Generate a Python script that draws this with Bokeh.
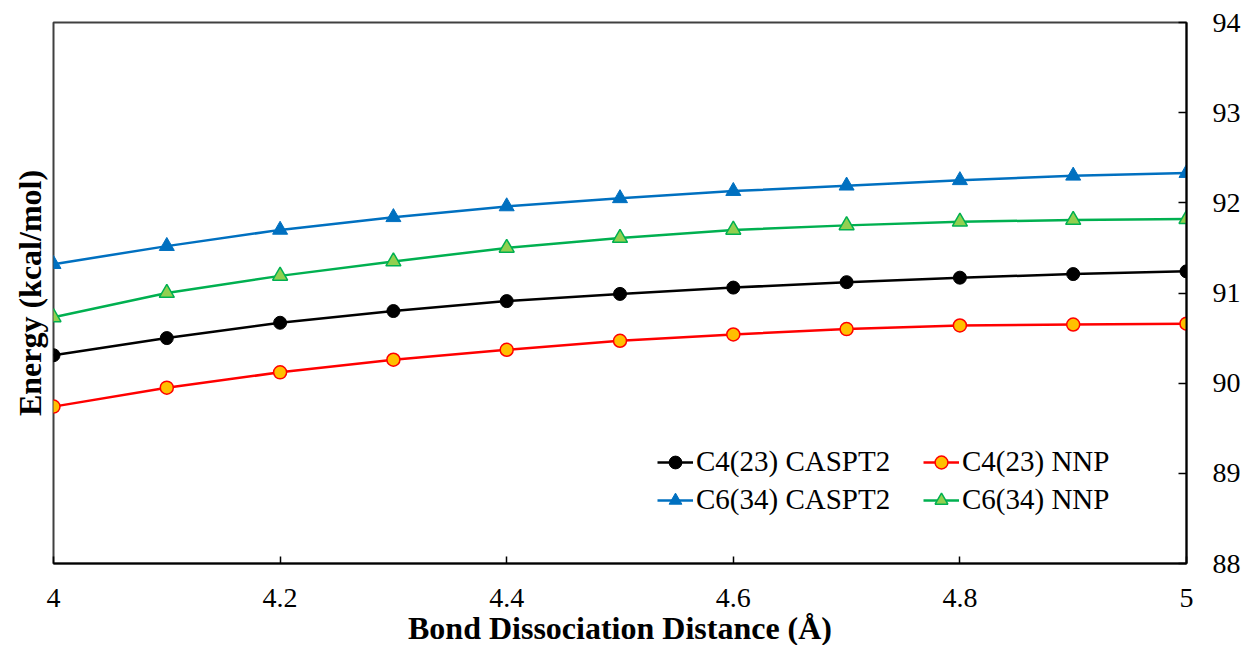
from bokeh.plotting import figure
from bokeh.models import (LinearAxis, FixedTicker, CustomJSTickFormatter, Legend,
                          LegendItem, Range1d, ColumnDataSource)
from bokeh.embed import file_html
from bokeh.resources import INLINE

# ---- data ----
distance = [4.0, 4.1, 4.2, 4.3, 4.4, 4.5, 4.6, 4.7, 4.8, 4.9, 5.0]
c4_caspt2 = [90.31, 90.50, 90.67, 90.80, 90.91, 90.99, 91.06, 91.12, 91.17, 91.21, 91.24]
c4_nnp = [89.74, 89.95, 90.12, 90.26, 90.37, 90.47, 90.54, 90.60, 90.64, 90.65, 90.66]
c6_caspt2 = [91.32, 91.52, 91.70, 91.84, 91.96, 92.05, 92.13, 92.19, 92.25, 92.30, 92.33]
c6_nnp = [90.73, 91.00, 91.19, 91.35, 91.50, 91.61, 91.70, 91.75, 91.79, 91.81, 91.82]
x_ticks = [4.0, 4.2, 4.4, 4.6, 4.8, 5.0]
y_ticks = [88, 89, 90, 91, 92, 93, 94]

FONT = "Liberation Serif"

p = figure(frame_width=1133, frame_height=541, output_backend="svg",
           toolbar_location=None, y_axis_location="right",
           x_range=Range1d(4, 5), y_range=Range1d(88, 94),
           min_border_left=53, min_border_top=22, min_border_right=10,
           min_border_bottom=10)
p.background_fill_color = "white"
p.border_fill_color = "white"
p.grid.visible = False
p.outline_line_color = "#404040"
p.outline_line_width = 2

# x axis
xa = p.xaxis[0]
xa.ticker = FixedTicker(ticks=x_ticks)
xa.formatter = CustomJSTickFormatter(code="return String(Math.round(tick*10)/10);")
xa.major_tick_in = 7
xa.major_tick_out = 0
xa.minor_tick_line_color = None
xa.axis_line_width = 2
xa.axis_line_color = "black"
xa.major_tick_line_width = 1.5
xa.major_label_text_font = FONT
xa.major_label_text_font_size = "28px"
xa.major_label_text_color = "black"
xa.major_label_standoff = 25
xa.axis_label = "Bond Dissociation Distance (Å)"
xa.axis_label_text_font = FONT
xa.axis_label_text_font_style = "bold"
xa.axis_label_text_font_size = "32px"
xa.axis_label_text_color = "black"
xa.axis_label_standoff = 0

# right y axis
ya = p.yaxis[0]
ya.ticker = FixedTicker(ticks=y_ticks)
ya.major_tick_in = 8
ya.major_tick_out = 0
ya.minor_tick_line_color = None
ya.axis_line_width = 2
ya.axis_line_color = "black"
ya.major_tick_line_width = 1.5
ya.major_label_text_font = FONT
ya.major_label_text_font_size = "28px"
ya.major_label_text_color = "black"
ya.major_label_standoff = 26

# left axis: label only
la = LinearAxis(ticker=FixedTicker(ticks=[]), axis_line_color=None,
                major_tick_line_color=None, minor_tick_line_color=None,
                major_label_text_font_size="0px", major_label_standoff=0,
                axis_label="Energy (kcal/mol)", axis_label_text_font=FONT,
                axis_label_text_font_style="bold", axis_label_text_font_size="32px",
                axis_label_text_color="black", axis_label_standoff=6)
p.add_layout(la, "left")

src = ColumnDataSource(dict(x=distance, a=c4_caspt2, b=c4_nnp, c=c6_caspt2, d=c6_nnp))

LW = 2.5
r_a_l = p.line("x", "a", source=src, line_color="black", line_width=LW)
r_a_m = p.scatter("x", "a", source=src, marker="circle", size=13,
                  fill_color="black", line_color="black")
r_b_l = p.line("x", "b", source=src, line_color="#FF0000", line_width=LW)
r_b_m = p.scatter("x", "b", source=src, marker="circle", size=13,
                  fill_color="#FFC000", line_color="#FF0000", line_width=1.5)
r_c_l = p.line("x", "c", source=src, line_color="#0070C0", line_width=LW)
r_c_m = p.scatter("x", "c", source=src, marker="triangle", size=15,
                  fill_color="#0070C0", line_color="#0070C0")
r_d_l = p.line("x", "d", source=src, line_color="#00B050", line_width=LW)
r_d_m = p.scatter("x", "d", source=src, marker="triangle", size=15,
                  fill_color="#92D050", line_color="#00B050", line_width=1.5)


def make_legend(items, loc):
    lg = Legend(items=items, location=loc, padding=0, margin=0, spacing=5,
                glyph_width=36, glyph_height=32, label_height=32, label_standoff=3,
                label_text_font=FONT, label_text_font_size="29px",
                label_text_color="black", border_line_color=None,
                background_fill_alpha=0)
    return lg


lg1 = make_legend([LegendItem(label="C4(23) CASPT2", renderers=[r_a_l, r_a_m]),
                   LegendItem(label="C6(34) CASPT2", renderers=[r_c_l, r_c_m])], (604, 47))
lg2 = make_legend([LegendItem(label="C4(23) NNP", renderers=[r_b_l, r_b_m]),
                   LegendItem(label="C6(34) NNP", renderers=[r_d_l, r_d_m])], (870, 47))
p.add_layout(lg1, "center")
p.add_layout(lg2, "center")

open("out.html", "w").write(file_html(p, INLINE))
